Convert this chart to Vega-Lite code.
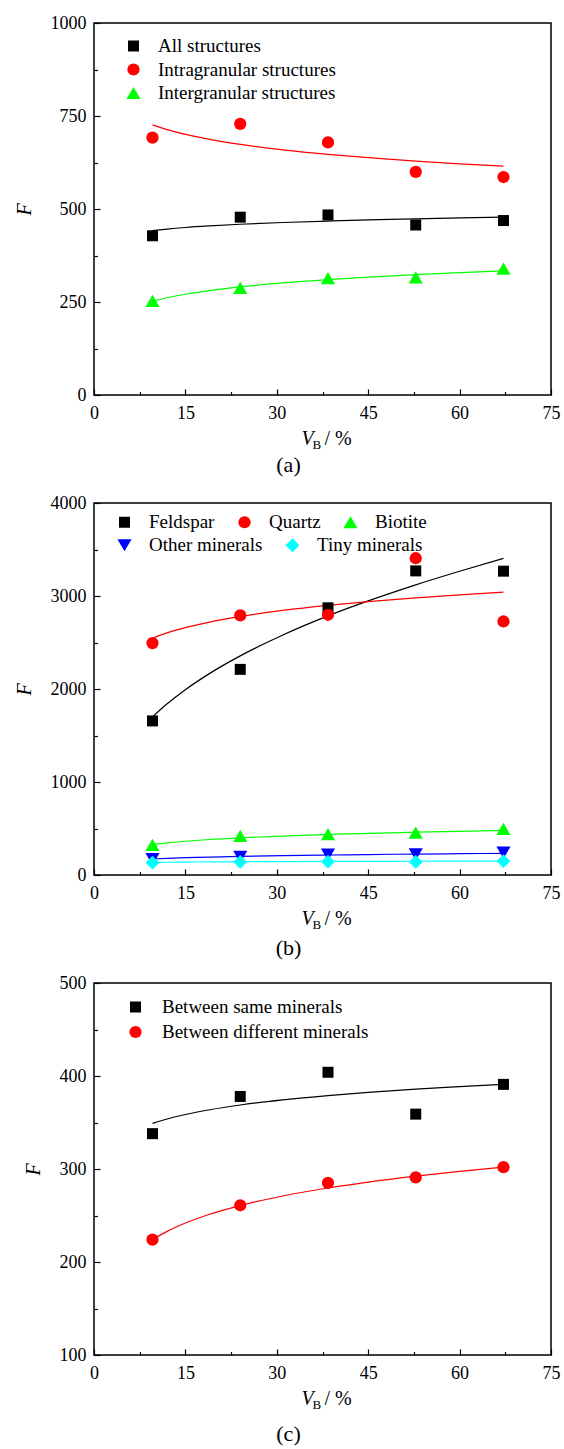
{
  "$schema": "https://vega.github.io/schema/vega-lite/v6.json",
  "padding": {"left": 13, "top": 13, "right": 2, "bottom": 2},
  "background": "white",
  "datasets": {
    "ptsA": [
      {"vb": 9.6, "f": 428, "series": "All structures"},
      {"vb": 24.0, "f": 478, "series": "All structures"},
      {"vb": 38.4, "f": 484, "series": "All structures"},
      {"vb": 52.8, "f": 457, "series": "All structures"},
      {"vb": 67.2, "f": 469, "series": "All structures"},
      {"vb": 9.6, "f": 692, "series": "Intragranular structures"},
      {"vb": 24.0, "f": 729, "series": "Intragranular structures"},
      {"vb": 38.4, "f": 679, "series": "Intragranular structures"},
      {"vb": 52.8, "f": 600, "series": "Intragranular structures"},
      {"vb": 67.2, "f": 586, "series": "Intragranular structures"},
      {"vb": 9.6, "f": 253, "series": "Intergranular structures"},
      {"vb": 24.0, "f": 288, "series": "Intergranular structures"},
      {"vb": 38.4, "f": 314, "series": "Intergranular structures"},
      {"vb": 52.8, "f": 316, "series": "Intergranular structures"},
      {"vb": 67.2, "f": 340, "series": "Intergranular structures"}
    ],
    "fitA": [
      {"vb": 9.6, "f": 442, "series": "All structures"},
      {"vb": 12, "f": 446.1, "series": "All structures"},
      {"vb": 15, "f": 450.3, "series": "All structures"},
      {"vb": 19, "f": 454.6, "series": "All structures"},
      {"vb": 24, "f": 459.0, "series": "All structures"},
      {"vb": 31, "f": 463.7, "series": "All structures"},
      {"vb": 38.4, "f": 467.6, "series": "All structures"},
      {"vb": 45, "f": 470.6, "series": "All structures"},
      {"vb": 52.8, "f": 473.5, "series": "All structures"},
      {"vb": 60, "f": 475.9, "series": "All structures"},
      {"vb": 67.2, "f": 478, "series": "All structures"},
      {"vb": 9.6, "f": 726, "series": "Intragranular structures"},
      {"vb": 12, "f": 713.3, "series": "Intragranular structures"},
      {"vb": 15, "f": 700.5, "series": "Intragranular structures"},
      {"vb": 19, "f": 687.1, "series": "Intragranular structures"},
      {"vb": 24, "f": 673.7, "series": "Intragranular structures"},
      {"vb": 31, "f": 659.1, "series": "Intragranular structures"},
      {"vb": 38.4, "f": 646.9, "series": "Intragranular structures"},
      {"vb": 45, "f": 637.9, "series": "Intragranular structures"},
      {"vb": 52.8, "f": 628.8, "series": "Intragranular structures"},
      {"vb": 60, "f": 621.5, "series": "Intragranular structures"},
      {"vb": 67.2, "f": 615, "series": "Intragranular structures"},
      {"vb": 9.6, "f": 252, "series": "Intergranular structures"},
      {"vb": 12, "f": 261.4, "series": "Intergranular structures"},
      {"vb": 15, "f": 270.8, "series": "Intergranular structures"},
      {"vb": 19, "f": 280.8, "series": "Intergranular structures"},
      {"vb": 24, "f": 290.6, "series": "Intergranular structures"},
      {"vb": 31, "f": 301.4, "series": "Intergranular structures"},
      {"vb": 38.4, "f": 310.4, "series": "Intergranular structures"},
      {"vb": 45, "f": 317.1, "series": "Intergranular structures"},
      {"vb": 52.8, "f": 323.8, "series": "Intergranular structures"},
      {"vb": 60, "f": 329.2, "series": "Intergranular structures"},
      {"vb": 67.2, "f": 334, "series": "Intergranular structures"}
    ],
    "ptsB1": [
      {"vb": 9.6, "f": 1657, "series": "Feldspar"},
      {"vb": 24.0, "f": 2211, "series": "Feldspar"},
      {"vb": 38.4, "f": 2873, "series": "Feldspar"},
      {"vb": 52.8, "f": 3270, "series": "Feldspar"},
      {"vb": 67.2, "f": 3267, "series": "Feldspar"},
      {"vb": 9.6, "f": 2494, "series": "Quartz"},
      {"vb": 24.0, "f": 2791, "series": "Quartz"},
      {"vb": 38.4, "f": 2798, "series": "Quartz"},
      {"vb": 52.8, "f": 3406, "series": "Quartz"},
      {"vb": 67.2, "f": 2726, "series": "Quartz"},
      {"vb": 9.6, "f": 325, "series": "Biotite"},
      {"vb": 24.0, "f": 420, "series": "Biotite"},
      {"vb": 38.4, "f": 440, "series": "Biotite"},
      {"vb": 52.8, "f": 455, "series": "Biotite"},
      {"vb": 67.2, "f": 495, "series": "Biotite"}
    ],
    "ptsB2": [
      {"vb": 9.6, "f": 170, "series": "Other minerals"},
      {"vb": 24.0, "f": 195, "series": "Other minerals"},
      {"vb": 38.4, "f": 220, "series": "Other minerals"},
      {"vb": 52.8, "f": 222, "series": "Other minerals"},
      {"vb": 67.2, "f": 240, "series": "Other minerals"},
      {"vb": 9.6, "f": 132, "series": "Tiny minerals"},
      {"vb": 24.0, "f": 140, "series": "Tiny minerals"},
      {"vb": 38.4, "f": 143, "series": "Tiny minerals"},
      {"vb": 52.8, "f": 140, "series": "Tiny minerals"},
      {"vb": 67.2, "f": 150, "series": "Tiny minerals"}
    ],
    "fitB": [
      {"vb": 9.6, "f": 1700, "series": "Feldspar"},
      {"vb": 12, "f": 1841, "series": "Feldspar"},
      {"vb": 15, "f": 1993, "series": "Feldspar"},
      {"vb": 19, "f": 2168, "series": "Feldspar"},
      {"vb": 24, "f": 2356, "series": "Feldspar"},
      {"vb": 31, "f": 2581, "series": "Feldspar"},
      {"vb": 38.4, "f": 2786, "series": "Feldspar"},
      {"vb": 45, "f": 2947, "series": "Feldspar"},
      {"vb": 52.8, "f": 3120, "series": "Feldspar"},
      {"vb": 60, "f": 3266, "series": "Feldspar"},
      {"vb": 67.2, "f": 3405, "series": "Feldspar"},
      {"vb": 9.6, "f": 2547, "series": "Quartz"},
      {"vb": 12, "f": 2604, "series": "Quartz"},
      {"vb": 15, "f": 2660, "series": "Quartz"},
      {"vb": 19, "f": 2720, "series": "Quartz"},
      {"vb": 24, "f": 2780, "series": "Quartz"},
      {"vb": 31, "f": 2845, "series": "Quartz"},
      {"vb": 38.4, "f": 2899, "series": "Quartz"},
      {"vb": 45, "f": 2939, "series": "Quartz"},
      {"vb": 52.8, "f": 2980, "series": "Quartz"},
      {"vb": 60, "f": 3012, "series": "Quartz"},
      {"vb": 67.2, "f": 3041, "series": "Quartz"},
      {"vb": 9.6, "f": 329, "series": "Biotite"},
      {"vb": 12, "f": 346, "series": "Biotite"},
      {"vb": 15, "f": 363, "series": "Biotite"},
      {"vb": 19, "f": 382, "series": "Biotite"},
      {"vb": 24, "f": 400, "series": "Biotite"},
      {"vb": 31, "f": 419, "series": "Biotite"},
      {"vb": 38.4, "f": 436, "series": "Biotite"},
      {"vb": 45, "f": 448, "series": "Biotite"},
      {"vb": 52.8, "f": 460, "series": "Biotite"},
      {"vb": 60, "f": 470, "series": "Biotite"},
      {"vb": 67.2, "f": 479, "series": "Biotite"},
      {"vb": 9.6, "f": 172, "series": "Other minerals"},
      {"vb": 12, "f": 179, "series": "Other minerals"},
      {"vb": 15, "f": 186, "series": "Other minerals"},
      {"vb": 19, "f": 193, "series": "Other minerals"},
      {"vb": 24, "f": 201, "series": "Other minerals"},
      {"vb": 31, "f": 209, "series": "Other minerals"},
      {"vb": 38.4, "f": 215, "series": "Other minerals"},
      {"vb": 45, "f": 220, "series": "Other minerals"},
      {"vb": 52.8, "f": 225, "series": "Other minerals"},
      {"vb": 60, "f": 229, "series": "Other minerals"},
      {"vb": 67.2, "f": 233, "series": "Other minerals"},
      {"vb": 9.6, "f": 136, "series": "Tiny minerals"},
      {"vb": 12, "f": 137, "series": "Tiny minerals"},
      {"vb": 15, "f": 139, "series": "Tiny minerals"},
      {"vb": 19, "f": 141, "series": "Tiny minerals"},
      {"vb": 24, "f": 143, "series": "Tiny minerals"},
      {"vb": 31, "f": 144, "series": "Tiny minerals"},
      {"vb": 38.4, "f": 146, "series": "Tiny minerals"},
      {"vb": 45, "f": 147, "series": "Tiny minerals"},
      {"vb": 52.8, "f": 148, "series": "Tiny minerals"},
      {"vb": 60, "f": 149, "series": "Tiny minerals"},
      {"vb": 67.2, "f": 150, "series": "Tiny minerals"}
    ],
    "ptsC": [
      {"vb": 9.6, "f": 338, "series": "Between same minerals"},
      {"vb": 24.0, "f": 378, "series": "Between same minerals"},
      {"vb": 38.4, "f": 404, "series": "Between same minerals"},
      {"vb": 52.8, "f": 359, "series": "Between same minerals"},
      {"vb": 67.2, "f": 391, "series": "Between same minerals"},
      {"vb": 9.6, "f": 224, "series": "Between different minerals"},
      {"vb": 24.0, "f": 261, "series": "Between different minerals"},
      {"vb": 38.4, "f": 285, "series": "Between different minerals"},
      {"vb": 52.8, "f": 291, "series": "Between different minerals"},
      {"vb": 67.2, "f": 302, "series": "Between different minerals"}
    ],
    "fitC": [
      {"vb": 9.6, "f": 349, "series": "Between same minerals"},
      {"vb": 12, "f": 353.8, "series": "Between same minerals"},
      {"vb": 15, "f": 358.6, "series": "Between same minerals"},
      {"vb": 19, "f": 363.7, "series": "Between same minerals"},
      {"vb": 24, "f": 368.8, "series": "Between same minerals"},
      {"vb": 31, "f": 374.3, "series": "Between same minerals"},
      {"vb": 38.4, "f": 378.9, "series": "Between same minerals"},
      {"vb": 45, "f": 382.3, "series": "Between same minerals"},
      {"vb": 52.8, "f": 385.8, "series": "Between same minerals"},
      {"vb": 60, "f": 388.5, "series": "Between same minerals"},
      {"vb": 67.2, "f": 391, "series": "Between same minerals"},
      {"vb": 9.6, "f": 224, "series": "Between different minerals"},
      {"vb": 12, "f": 232.9, "series": "Between different minerals"},
      {"vb": 15, "f": 241.9, "series": "Between different minerals"},
      {"vb": 19, "f": 251.4, "series": "Between different minerals"},
      {"vb": 24, "f": 260.7, "series": "Between different minerals"},
      {"vb": 31, "f": 271, "series": "Between different minerals"},
      {"vb": 38.4, "f": 279.6, "series": "Between different minerals"},
      {"vb": 45, "f": 285.9, "series": "Between different minerals"},
      {"vb": 52.8, "f": 292.3, "series": "Between different minerals"},
      {"vb": 60, "f": 297.5, "series": "Between different minerals"},
      {"vb": 67.2, "f": 302, "series": "Between different minerals"}
    ]
  },
  "vconcat": [
    {
      "width": 457,
      "height": 372,
      "title": {"text": "(a)", "orient": "bottom", "anchor": "middle", "frame": "group", "dx": -34, "offset": 4},
      "layer": [
        {
          "data": {"name": "fitA"},
          "mark": {"type": "line", "strokeWidth": 1.2, "interpolate": "monotone"},
          "encoding": {
            "x": {"field": "vb", "type": "quantitative", "scale": {"domain": [0, 75], "nice": false, "zero": false},
                  "axis": {"orient": "bottom", "values": [7.5, 22.5, 37.5, 52.5, 67.5], "tickSize": -3.5, "labels": false,
                           "title": "B", "titleFont": "Liberation Serif", "titleFontSize": 13, "titleFontStyle": "normal", "titleX": 218, "titleY": 53, "titleAlign": "left", "titleBaseline": "alphabetic"}},
            "y": {"field": "f", "type": "quantitative", "scale": {"domain": [0, 1000], "nice": false, "zero": false},
                  "axis": {"orient": "left", "values": [125, 375, 625, 875], "tickSize": -3.5, "labels": false,
                           "title": "/ %", "titleFont": "Liberation Serif", "titleAngle": 0, "titleFontSize": 20, "titleFontStyle": "normal", "titleX": 230, "titleY": 421, "titleAlign": "left", "titleBaseline": "alphabetic"}},
            "color": {"field": "series", "type": "nominal",
                      "scale": {"domain": ["All structures", "Intragranular structures", "Intergranular structures"], "range": ["#000000", "#ff0000", "#00ff00"]},
                      "legend": null},
            "detail": {"field": "series"}
          }
        },
        {
          "data": {"name": "ptsA"},
          "mark": {"type": "point", "filled": true, "opacity": 1},
          "encoding": {
            "x": {"field": "vb", "type": "quantitative",
                  "axis": {"orient": "bottom", "values": [0, 15, 30, 45, 60, 75], "tickSize": -6, "labelPadding": 15, "labelFlush": false, "labelOverlap": false,
                           "labelFont": "Liberation Serif", "labelFontSize": 18,
                           "title": "V", "titleFont": "Liberation Serif", "titleFontSize": 20, "titleFontStyle": "italic", "titleX": 207, "titleY": 49, "titleAlign": "left", "titleBaseline": "alphabetic"}},
            "y": {"field": "f", "type": "quantitative",
                  "axis": {"orient": "left", "values": [0, 250, 500, 750, 1000], "format": "d", "tickSize": -6, "labelPadding": 14, "labelOverlap": false,
                           "labelFont": "Liberation Serif", "labelFontSize": 18,
                           "title": "F", "titleFont": "Liberation Serif", "titleFontSize": 20, "titleFontStyle": "italic", "titlePadding": 16}},
            "color": {"field": "series", "type": "nominal",
                      "scale": {"domain": ["All structures", "Intragranular structures", "Intergranular structures"], "range": ["#000000", "#ff0000", "#00ff00"]},
                      "legend": {"orient": "none", "legendX": 30, "legendY": 13.5, "title": null, "direction": "vertical", "labelOffset": 15, "rowPadding": 3.5}},
            "shape": {"field": "series", "type": "nominal",
                      "scale": {"domain": ["All structures", "Intragranular structures", "Intergranular structures"], "range": ["square", "circle", "triangle-up"]}},
            "size": {"field": "series", "type": "nominal",
                     "scale": {"type": "ordinal", "domain": ["All structures", "Intragranular structures", "Intergranular structures"], "range": [121, 150, 200]}}
          }
        }
      ],
      "resolve": {
        "axis": {"x": "independent", "y": "independent"},
        "scale": {"color": "independent", "shape": "independent", "size": "independent"},
        "legend": {"color": "independent", "shape": "independent", "size": "independent"}
      }
    },
    {
      "width": 457,
      "height": 372,
      "title": {"text": "(b)", "orient": "bottom", "anchor": "middle", "frame": "group", "dx": -34, "offset": 7},
      "layer": [
        {
          "data": {"name": "fitB"},
          "mark": {"type": "line", "strokeWidth": 1.2, "interpolate": "monotone"},
          "encoding": {
            "x": {"field": "vb", "type": "quantitative", "scale": {"domain": [0, 75], "nice": false, "zero": false},
                  "axis": {"orient": "bottom", "values": [7.5, 22.5, 37.5, 52.5, 67.5], "tickSize": -3.5, "labels": false,
                           "title": "B", "titleFont": "Liberation Serif", "titleFontSize": 13, "titleFontStyle": "normal", "titleX": 218, "titleY": 53, "titleAlign": "left", "titleBaseline": "alphabetic"}},
            "y": {"field": "f", "type": "quantitative", "scale": {"domain": [0, 4000], "nice": false, "zero": false},
                  "axis": {"orient": "left", "values": [500, 1500, 2500, 3500], "tickSize": -3.5, "labels": false,
                           "title": "/ %", "titleFont": "Liberation Serif", "titleAngle": 0, "titleFontSize": 20, "titleFontStyle": "normal", "titleX": 230, "titleY": 421, "titleAlign": "left", "titleBaseline": "alphabetic"}},
            "color": {"field": "series", "type": "nominal",
                      "scale": {"domain": ["Feldspar", "Quartz", "Biotite", "Other minerals", "Tiny minerals"], "range": ["#000000", "#ff0000", "#00ff00", "#0000ff", "#00ffff"]},
                      "legend": null},
            "detail": {"field": "series"}
          }
        },
        {
          "data": {"name": "ptsB1"},
          "mark": {"type": "point", "filled": true, "opacity": 1},
          "encoding": {
            "x": {"field": "vb", "type": "quantitative",
                  "axis": {"orient": "bottom", "values": [0, 15, 30, 45, 60, 75], "tickSize": -6, "labelPadding": 15, "labelFlush": false, "labelOverlap": false,
                           "labelFont": "Liberation Serif", "labelFontSize": 18,
                           "title": "V", "titleFont": "Liberation Serif", "titleFontSize": 20, "titleFontStyle": "italic", "titleX": 207, "titleY": 49, "titleAlign": "left", "titleBaseline": "alphabetic"}},
            "y": {"field": "f", "type": "quantitative",
                  "axis": {"orient": "left", "values": [0, 1000, 2000, 3000, 4000], "format": "d", "tickSize": -6, "labelPadding": 14, "labelOverlap": false,
                           "labelFont": "Liberation Serif", "labelFontSize": 18,
                           "title": "F", "titleFont": "Liberation Serif", "titleFontSize": 20, "titleFontStyle": "italic", "titlePadding": 16}},
            "color": {"field": "series", "type": "nominal",
                      "scale": {"domain": ["Feldspar", "Quartz", "Biotite"], "range": ["#000000", "#ff0000", "#00ff00"]},
                      "legend": {"orient": "none", "legendX": 21, "legendY": 9.5, "title": null, "direction": "horizontal", "labelOffset": 15, "columnPadding": 20}},
            "shape": {"field": "series", "type": "nominal",
                      "scale": {"domain": ["Feldspar", "Quartz", "Biotite"], "range": ["square", "circle", "triangle-up"]}},
            "size": {"field": "series", "type": "nominal",
                     "scale": {"type": "ordinal", "domain": ["Feldspar", "Quartz", "Biotite"], "range": [121, 150, 200]}}
          }
        },
        {
          "data": {"name": "ptsB2"},
          "mark": {"type": "point", "filled": true, "opacity": 1},
          "encoding": {
            "x": {"field": "vb", "type": "quantitative", "axis": null},
            "y": {"field": "f", "type": "quantitative", "axis": null},
            "color": {"field": "series", "type": "nominal",
                      "scale": {"domain": ["Other minerals", "Tiny minerals"], "range": ["#0000ff", "#00ffff"]},
                      "legend": {"orient": "none", "legendX": 21, "legendY": 32.5, "title": null, "direction": "horizontal", "labelOffset": 15, "columnPadding": 20}},
            "shape": {"field": "series", "type": "nominal",
                      "scale": {"domain": ["Other minerals", "Tiny minerals"], "range": ["triangle-down", "diamond"]}},
            "size": {"field": "series", "type": "nominal",
                     "scale": {"type": "ordinal", "domain": ["Other minerals", "Tiny minerals"], "range": [200, 190]}}
          }
        }
      ],
      "resolve": {
        "axis": {"x": "independent", "y": "independent"},
        "scale": {"color": "independent", "shape": "independent", "size": "independent"},
        "legend": {"color": "independent", "shape": "independent", "size": "independent"}
      }
    },
    {
      "width": 457,
      "height": 372,
      "title": {"text": "(c)", "orient": "bottom", "anchor": "middle", "frame": "group", "dx": -34, "offset": 13},
      "layer": [
        {
          "data": {"name": "fitC"},
          "mark": {"type": "line", "strokeWidth": 1.2, "interpolate": "monotone"},
          "encoding": {
            "x": {"field": "vb", "type": "quantitative", "scale": {"domain": [0, 75], "nice": false, "zero": false},
                  "axis": {"orient": "bottom", "values": [7.5, 22.5, 37.5, 52.5, 67.5], "tickSize": -3.5, "labels": false,
                           "title": "B", "titleFont": "Liberation Serif", "titleFontSize": 13, "titleFontStyle": "normal", "titleX": 218, "titleY": 53, "titleAlign": "left", "titleBaseline": "alphabetic"}},
            "y": {"field": "f", "type": "quantitative", "scale": {"domain": [100, 500], "nice": false, "zero": false},
                  "axis": {"orient": "left", "values": [150, 250, 350, 450], "tickSize": -3.5, "labels": false,
                           "title": "/ %", "titleFont": "Liberation Serif", "titleAngle": 0, "titleFontSize": 20, "titleFontStyle": "normal", "titleX": 230, "titleY": 421, "titleAlign": "left", "titleBaseline": "alphabetic"}},
            "color": {"field": "series", "type": "nominal",
                      "scale": {"domain": ["Between same minerals", "Between different minerals"], "range": ["#000000", "#ff0000"]},
                      "legend": null},
            "detail": {"field": "series"}
          }
        },
        {
          "data": {"name": "ptsC"},
          "mark": {"type": "point", "filled": true, "opacity": 1},
          "encoding": {
            "x": {"field": "vb", "type": "quantitative",
                  "axis": {"orient": "bottom", "values": [0, 15, 30, 45, 60, 75], "tickSize": -6, "labelPadding": 15, "labelFlush": false, "labelOverlap": false,
                           "labelFont": "Liberation Serif", "labelFontSize": 18,
                           "title": "V", "titleFont": "Liberation Serif", "titleFontSize": 20, "titleFontStyle": "italic", "titleX": 207, "titleY": 49, "titleAlign": "left", "titleBaseline": "alphabetic"}},
            "y": {"field": "f", "type": "quantitative",
                  "axis": {"orient": "left", "values": [100, 200, 300, 400, 500], "format": "d", "tickSize": -6, "labelPadding": 14, "labelOverlap": false,
                           "labelFont": "Liberation Serif", "labelFontSize": 18,
                           "title": "F", "titleFont": "Liberation Serif", "titleFontSize": 20, "titleFontStyle": "italic", "titlePadding": 16}},
            "color": {"field": "series", "type": "nominal",
                      "scale": {"domain": ["Between same minerals", "Between different minerals"], "range": ["#000000", "#ff0000"]},
                      "legend": {"orient": "none", "legendX": 32, "legendY": 14.5, "title": null, "direction": "vertical", "labelOffset": 17, "rowPadding": 5}},
            "shape": {"field": "series", "type": "nominal",
                      "scale": {"domain": ["Between same minerals", "Between different minerals"], "range": ["square", "circle"]}},
            "size": {"field": "series", "type": "nominal",
                     "scale": {"type": "ordinal", "domain": ["Between same minerals", "Between different minerals"], "range": [121, 150]}}
          }
        }
      ],
      "resolve": {
        "axis": {"x": "independent", "y": "independent"},
        "scale": {"color": "independent", "shape": "independent", "size": "independent"},
        "legend": {"color": "independent", "shape": "independent", "size": "independent"}
      }
    }
  ],
  "spacing": 108,
  "bounds": "flush",
  "config": {
    "font": "Liberation Serif",
    "view": {"stroke": "#000000", "strokeWidth": 1.5},
    "style": {
      "guide-label": {"font": "Liberation Serif", "fill": "#000000"},
      "guide-title": {"font": "Liberation Serif", "fill": "#000000"}
    },
    "axis": {
      "domain": false,
      "grid": false,
      "tickColor": "#000000",
      "tickWidth": 1.2,
      "labelFont": "Liberation Serif",
      "labelFontSize": 18,
      "labelColor": "#000000",
      "titleFont": "Liberation Serif",
      "titleColor": "#000000",
      "titleFontWeight": "normal"
    },
    "legend": {
      "labelFont": "Liberation Serif",
      "labelFontSize": 19,
      "labelColor": "#000000",
      "labelLimit": 400,
      "padding": 0,
      "symbolStrokeWidth": 0,
      "symbolOpacity": 1
    },
    "title": {
      "font": "Liberation Serif",
      "fontSize": 22,
      "fontWeight": "normal",
      "color": "#000000"
    }
  }
}
